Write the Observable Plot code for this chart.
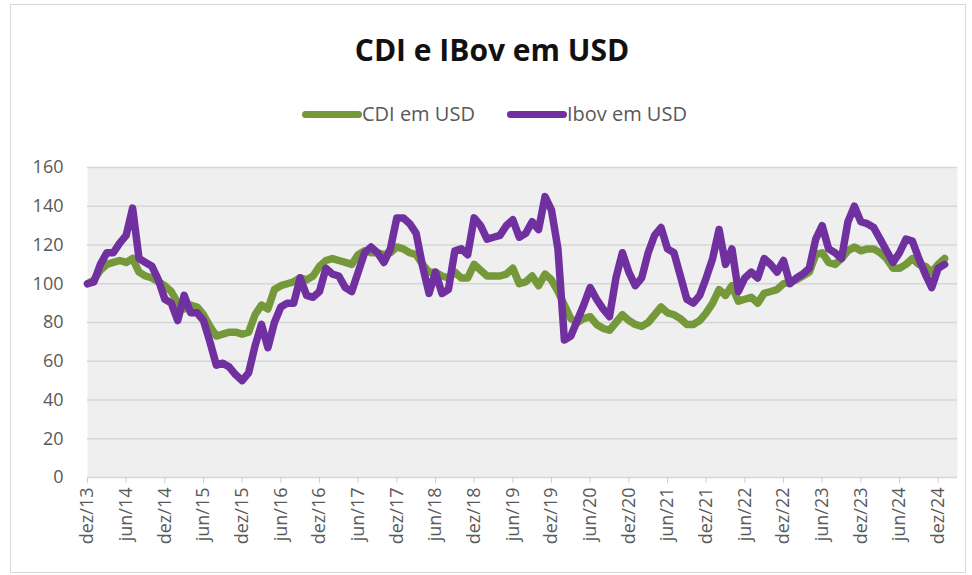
<!DOCTYPE html>
<html>
<head>
<meta charset="utf-8">
<script src="https://cdn.jsdelivr.net/npm/d3@7"></script>
<script src="https://cdn.jsdelivr.net/npm/@observablehq/plot@0.6"></script>
<style>
  body { margin: 0; background: #fff; font-family: "Open Sans", sans-serif; }
  #wrap { position: relative; width: 972px; height: 575px; overflow: hidden; background: #fff; }
  #frame { position: absolute; left: 10px; top: 4px; width: 956px; height: 569px; border: 1px solid #d9d9d9; box-sizing: border-box; }
  #title { position: absolute; left: 0; top: 35px; width: 984px; text-align: center; font-size: 30px; line-height: 30px; font-weight: 700; color: #111; }
  #legend { position: absolute; left: 302px; top: 104px; display: flex; align-items: center; font-size: 20px; line-height: 20px; color: #595959; }
  .sw { width: 60px; height: 7px; border-radius: 4px; }
  .item { display: flex; align-items: center; margin-right: 32px; }
  #chart { position: absolute; left: 0; top: 140px; }
</style>
</head>
<body>
<div id="wrap">
  <div id="frame"></div>
  <div id="title">CDI e IBov em USD</div>
  <div id="legend"></div>
  <div id="chart"></div>
</div>
<script>
// Series names and colours
const seriesNames = ["CDI em USD", "Ibov em USD"];
const seriesColors = ["#75993a", "#7030a0"];

// Monthly values, dez/13 .. jan/25 (index 0 = dez/13)
const cdi = [
  100,102,107,110,111,112,111,113,106,104,103,101,
  99,96,90,87,89,88,84,78,73,74,75,75,
  74,75,84,89,87,97,99,100,101,103,102,104,
  109,112,113,112,111,110,115,117,116,116,115,116,
  119,118,116,115,110,106,106,104,103,106,103,103,
  110,107,104,104,104,105,108,100,101,104,99,105,
  102,96,89,82,80,82,83,79,77,76,80,84,
  81,79,78,80,84,88,85,84,82,79,79,81,
  85,90,97,94,99,91,92,93,90,95,96,97,
  100,101,102,104,106,115,116,111,110,113,117,119,
  117,118,118,116,113,108,108,110,113,110,109,106,
  110,113
];
const ibov = [
  100,101,110,116,116,121,125,139,113,111,109,102,
  92,90,81,94,85,85,81,70,58,59,57,53,
  50,54,68,79,67,80,88,90,90,103,94,93,
  96,108,105,104,98,96,106,116,119,116,111,118,
  134,134,131,126,109,95,106,95,97,117,118,115,
  134,130,123,124,125,130,133,124,126,132,128,145,
  138,118,71,73,81,89,98,92,87,83,103,116,
  106,99,103,116,125,129,118,116,104,92,90,94,
  103,113,128,110,118,96,103,106,103,113,110,106,
  112,100,103,105,108,123,130,118,116,113,132,140,
  132,131,129,123,117,111,116,123,122,113,105,98,
  108,110
];

// X tick labels, every 6 months starting at dez/13
const tickLabels = ["dez/13","jun/14","dez/14","jun/15","dez/15","jun/16","dez/16","jun/17",
  "dez/17","jun/18","dez/18","jun/19","dez/19","jun/20","dez/20","jun/21","dez/21","jun/22",
  "dez/22","jun/23","dez/23","jun/24","dez/24"];
const yTicks = [0,20,40,60,80,100,120,140,160];

const tickIdx = tickLabels.map((_, k) => k * 6);
const rows = [];
[cdi, ibov].forEach((arr, s) => arr.forEach((v, i) => rows.push({i, v, s: seriesNames[s]})));

// Legend
const legend = document.getElementById("legend");
seriesNames.forEach((n, k) => {
  const it = document.createElement("div");
  it.className = "item";
  it.innerHTML = `<div class="sw" style="background:${seriesColors[k]}"></div><span>${n}</span>`;
  legend.appendChild(it);
});

const chart = Plot.plot({
  width: 972,
  height: 430,
  marginTop: 27,
  marginBottom: 93,
  marginLeft: 87,
  marginRight: 15,
  style: { fontFamily: "Open Sans, sans-serif", color: "#595959", background: "transparent" },
  x: { type: "linear", domain: [0, 135], label: null },
  y: { domain: [0, 160], label: null },
  color: { domain: seriesNames, range: seriesColors },
  marks: [
    Plot.frame({ fill: "#efefef", stroke: null }),
    Plot.gridY(yTicks, { stroke: "#d6d6d6", strokeOpacity: 1, strokeWidth: 1.5 }),
    Plot.axisY(yTicks, { tickSize: 0, tickPadding: 24, fontSize: 18, fill: "#595959", label: null }),
    Plot.axisX(tickIdx, {
      tickFormat: d => tickLabels[d / 6],
      tickRotate: -90, tickSize: 6, tickPadding: 4,
      fontSize: 18, stroke: "#d0d0d0", fill: "#595959", label: null
    }),
    Plot.line(rows, {
      x: "i", y: "v", z: "s", stroke: "s",
      strokeWidth: 7.5, strokeLinecap: "round", strokeLinejoin: "round"
    })
  ]
});
document.getElementById("chart").appendChild(chart);
</script>
</body>
</html>
